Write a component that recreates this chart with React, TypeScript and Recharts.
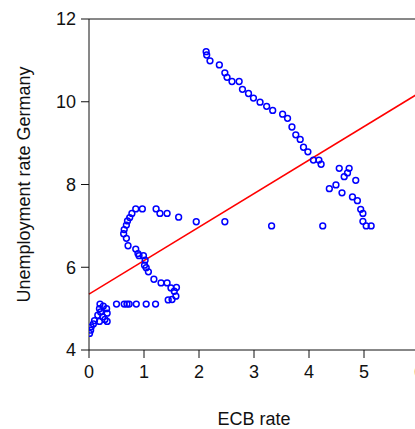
import { ScatterChart, Scatter, XAxis, YAxis, ReferenceLine } from 'recharts';

// ECB main refinancing rate (%) and German unemployment rate (%)
const ecbRate = [
  2.13, 2.14, 2.2, 2.37, 2.47, 2.51, 2.6, 2.73, 2.79, 2.9, 2.99, 3.11, 3.23, 3.34, 3.52, 3.61,
  3.69, 3.76, 3.84, 3.9, 3.98, 4.08, 4.18, 4.22, 4.55, 4.73, 4.7, 4.64, 4.85, 4.49, 4.37, 4.6,
  4.79, 4.88, 4.94, 4.98, 4.98, 5.04, 5.13, 4.25, 3.32,
  0.85, 0.97, 1.22, 1.29, 1.42, 1.63, 1.95, 2.47, 0.78, 0.74, 0.7, 0.68, 0.64, 0.63, 0.68, 0.71,
  0.85, 0.89, 0.91, 0.99, 1.02, 1.01, 1.04, 1.08, 1.18, 1.31, 1.42, 1.49, 1.59, 1.55, 1.58, 1.51,
  1.44,
  0.5, 0.64, 0.69, 0.73, 0.86, 1.04, 1.21,
  0.2, 0.26, 0.19, 0.32, 0.21, 0.33, 0.16, 0.25, 0.29, 0.19, 0.33, 0.1, 0.08, 0.04, 0.03, 0.01,
];
const unemployment = [
  11.21, 11.13, 10.99, 10.89, 10.7, 10.59, 10.49, 10.49, 10.3, 10.2, 10.09, 9.99, 9.89, 9.79, 9.7, 9.6,
  9.39, 9.2, 9.09, 8.9, 8.79, 8.59, 8.59, 8.49, 8.39, 8.39, 8.28, 8.19, 8.1, 7.99, 7.9, 7.8,
  7.7, 7.61, 7.4, 7.3, 7.11, 7.0, 7.0, 7.0, 7.0,
  7.41, 7.41, 7.41, 7.3, 7.3, 7.21, 7.1, 7.1, 7.3, 7.2, 7.12, 7.02, 6.91, 6.81, 6.7, 6.52,
  6.44, 6.33, 6.28, 6.28, 6.17, 6.05, 5.99, 5.89, 5.71, 5.62, 5.62, 5.5, 5.51, 5.42, 5.3, 5.22,
  5.21,
  5.11, 5.11, 5.11, 5.11, 5.11, 5.11, 5.11,
  5.11, 5.06, 5.0, 5.0, 4.92, 4.89, 4.84, 4.8, 4.74, 4.69, 4.69, 4.71, 4.63, 4.56, 4.48, 4.4,
];

// fitted regression line end points
const fitX = [0, 6];
const fitY = [5.35, 10.21];

const xTicks = [0, 1, 2, 3, 4, 5, 6];
const yTicks = [4, 6, 8, 10, 12];

const points = ecbRate.map((x, i) => ({ x, y: unemployment[i] }));

const Ring = (props: any) => (
  <circle cx={props.cx} cy={props.cy} r={2.9} fill="none" stroke="#0000ff" strokeWidth={1.5} />
);

const font = '"Liberation Sans", Arial, sans-serif';

export default function App() {
  return (
    <div style={{ position: 'fixed', left: 0, top: 0, width: 415, height: 429, overflow: 'hidden', background: '#fff' }}>
      <ScatterChart width={425} height={429} margin={{ top: 19, right: 6, left: 0, bottom: 0 }}>
        <XAxis
          type="number"
          dataKey="x"
          domain={[0, 6]}
          ticks={xTicks}
          allowDataOverflow
          height={79}
          stroke="#111"
          tickSize={8}
          tickMargin={7}
          tick={{ fill: '#111', fontSize: 18, fontFamily: font }}
          label={{ value: 'ECB rate', position: 'insideBottom', offset: 4, fill: '#111', fontSize: 18, fontFamily: font }}
        />
        <YAxis
          type="number"
          dataKey="y"
          domain={[4, 12]}
          ticks={yTicks}
          allowDataOverflow
          width={89}
          stroke="#111"
          tickSize={8}
          tickMargin={5}
          tick={{ fill: '#111', fontSize: 18, fontFamily: font }}
          label={{
            value: 'Unemployment rate Germany',
            angle: -90,
            position: 'insideLeft',
            offset: 24,
            fill: '#111',
            fontSize: 18,
            fontFamily: font,
            style: { textAnchor: 'middle' },
          }}
        />
        <ReferenceLine y={12} stroke="#111" />
        <ReferenceLine
          segment={[{ x: fitX[0], y: fitY[0] }, { x: fitX[1], y: fitY[1] }]}
          stroke="#ff0000"
          strokeWidth={1.5}
        />
        <Scatter data={points} shape={Ring} isAnimationActive={false} />
      </ScatterChart>
    </div>
  );
}
